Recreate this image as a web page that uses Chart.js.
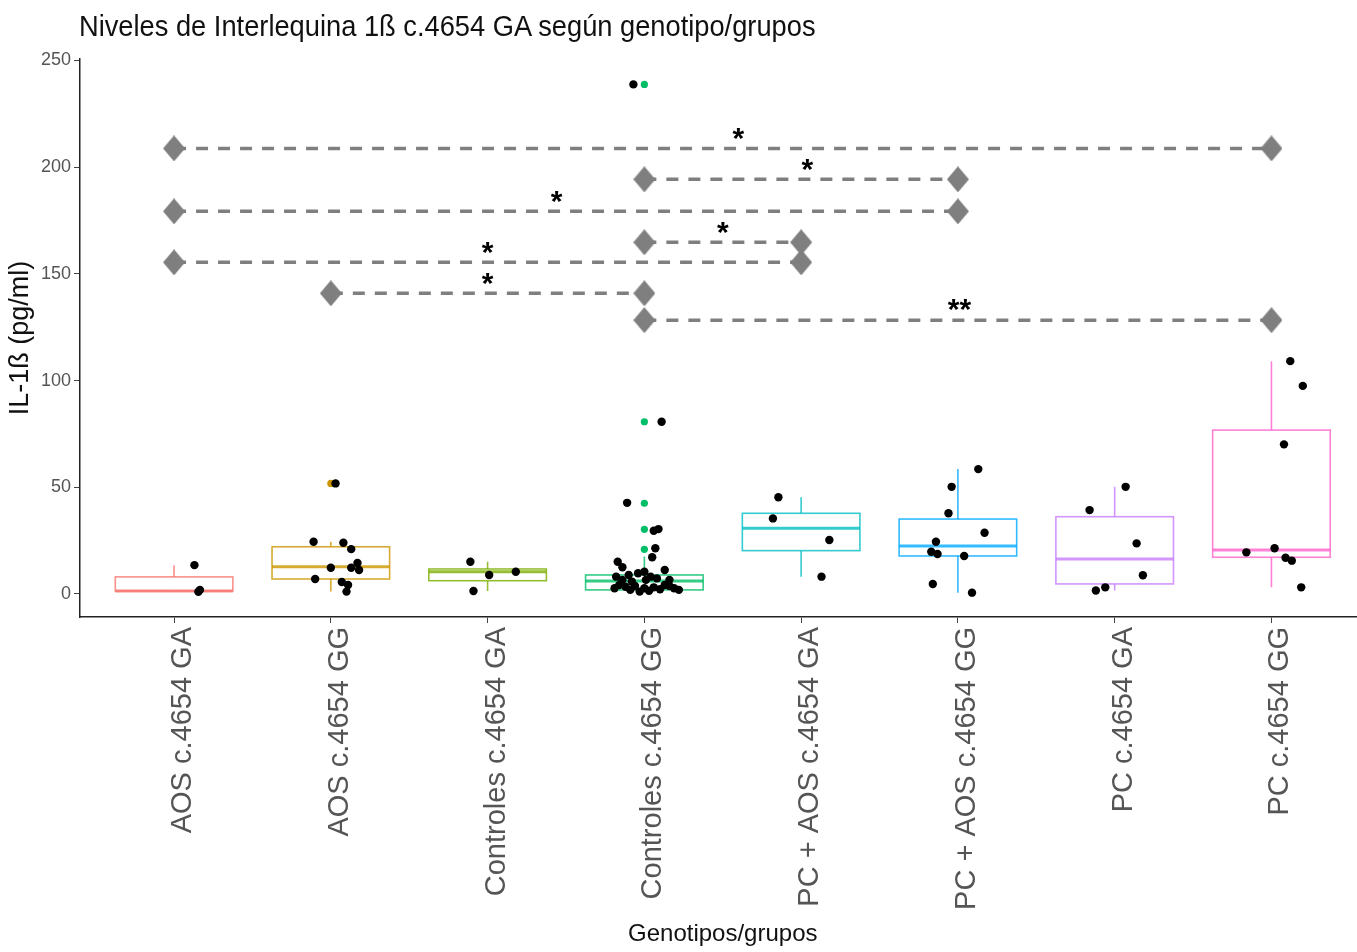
<!DOCTYPE html>
<html>
<head>
<meta charset="utf-8">
<script src="https://cdn.jsdelivr.net/npm/chart.js@4.4.1/dist/chart.umd.min.js"></script>
<style>
  html, body { margin: 0; padding: 0; background: #fff; overflow: hidden; }
  #wrap { position: relative; width: 1380px; height: 952px; }
  #titulo {
    position: absolute; left: 79px; top: 10px;
    font-family: 'Liberation Sans', Arial, sans-serif;
    font-size: 29px; color: #111; white-space: nowrap;
    transform-origin: left top;
  }
</style>
</head>
<body>
<div id="wrap">
  <div id="titulo">Niveles de Interlequina 1ß c.4654 GA según genotipo/grupos</div>
  <canvas id="myChart" width="1380" height="952"></canvas>
</div>
<script>
// grupos
var categories = ['AOS c.4654 GA', 'AOS c.4654 GG', 'Controles c.4654 GA', 'Controles c.4654 GG',
                  'PC + AOS c.4654 GA', 'PC + AOS c.4654 GG', 'PC c.4654 GA', 'PC c.4654 GG'];
var boxColors = ['#F8766D', '#CD9600', '#7CAE00', '#00BE67', '#00BFC4', '#00A9FF', '#C77CFF', '#FF61CC'];

// resumen de cajas (pg/ml)
var q1 = [1.4, 7.0, 6.2, 1.9, 20.3, 17.8, 4.7, 17.2];
var medians = [1.4, 12.8, 10.4, 6.1, 30.8, 22.5, 16.4, 20.6];
var q3 = [8.0, 22.1, 11.7, 8.9, 37.8, 35.1, 36.2, 76.8];
var whiskerLow = [1.0, 1.1, 1.4, 1.1, 8.1, 0.6, 1.6, 3.1];
var whiskerHigh = [13.5, 24.5, 15.1, 17.5, 45.3, 58.5, 50.2, 109.1];
var outliers = [[], [51.8], [], [238.8, 80.7, 42.5, 30.3, 20.9], [], [], [], []];

// observaciones: [desplazamiento jitter, valor]
var obsAosGA = [[0.13, 13.5], [0.165, 1.9], [0.155, 1.0]];
var obsAosGG = [[-0.11, 24.5], [0.08, 24], [0.13, 21], [0, 12.3], [0.13, 12.3], [0.17, 14.5], [0.18, 11.2],
                [-0.10, 7], [0.07, 5.6], [0.11, 4.2], [0.10, 1.1], [0.03, 51.8]];
var obsCtrlGA = [[-0.11, 15.1], [0.01, 8.9], [0.18, 10.4], [-0.09, 1.4]];
var obsCtrlGG = [[-0.07, 238.8], [0.11, 80.7], [-0.11, 42.7], [0.09, 30.4], [0.06, 29.6], [0.07, 21.4],
                 [0.05, 17.2], [-0.17, 15.1], [-0.14, 12.5], [0.13, 11.2], [-0.18, 8.1], [-0.10, 8.9],
                 [-0.04, 9.7], [0, 10.4], [0.04, 8.1], [0.08, 7.3], [0.16, 6.6], [-0.14, 6.6], [-0.08, 5.8],
                 [0.01, 6.6], [-0.16, 4.2], [-0.19, 2.7], [-0.12, 3.4], [-0.06, 3.7], [0, 2.7], [0.06, 3.1],
                 [0.13, 4.2], [0.19, 2.7], [0.22, 1.9], [-0.03, 1.1], [0.03, 1.5], [0.10, 2.2], [-0.09, 1.9],
                 [0.16, 3.7]];
var obsPcAosGA = [[-0.145, 45.3], [-0.18, 35.4], [0.18, 25.3], [0.13, 8.1]];
var obsPcAosGG = [[0.13, 58.5], [-0.04, 50.2], [-0.06, 37.8], [0.17, 28.7], [-0.14, 24.5], [-0.17, 19.8],
                  [-0.13, 18.7], [0.04, 17.8], [-0.16, 4.7], [0.09, 0.6]];
var obsPcGA = [[0.07, 50.2], [-0.16, 39.3], [0.14, 23.7], [0.18, 8.8], [-0.12, 1.6], [-0.06, 3.1]];
var obsPcGG = [[0.12, 109.1], [0.20, 97.5], [0.08, 70.1], [-0.16, 19.5], [0.02, 21.4], [0.09, 17],
               [0.13, 15.6], [0.19, 3.1]];
var observations = [obsAosGA, obsAosGG, obsCtrlGA, obsCtrlGG, obsPcAosGA, obsPcAosGG, obsPcGA, obsPcGG];

// comparaciones significativas
var bracketFrom = [0, 3, 0, 3, 0, 1, 3];
var bracketTo = [7, 5, 5, 4, 4, 3, 7];
var bracketY = [208.8, 194.3, 179.3, 164.8, 155.4, 140.9, 128.3];
var bracketLabels = ['*', '*', '*', '*', '*', '*', '**'];
var bracketLabelX = [3.6, 4.04, 2.44, 3.5, 2.0, 2.0, 5.01];

var yTicks = [0, 50, 100, 150, 200, 250];
var boxHalf = 0.375;

function makeDiamond() {
    var c = document.createElement('canvas');
    c.width = 22; c.height = 26;
    var g = c.getContext('2d');
    g.fillStyle = '#7f7f7f';
    g.beginPath();
    g.moveTo(11, 0); g.lineTo(22, 13); g.lineTo(11, 26); g.lineTo(0, 13);
    g.closePath();
    g.fill();
    return c;
}
var diamond = makeDiamond();

var datasets = [];

// corchetes
for (var b = 0; b < bracketFrom.length; b++) {
    datasets.push({
        type: 'scatter',
        data: [{x: bracketFrom[b], y: bracketY[b]}, {x: bracketTo[b], y: bracketY[b]}],
        showLine: true,
        borderColor: '#7f7f7f',
        borderWidth: 3.5,
        borderDash: [12, 10],
        pointStyle: diamond,
        pointRadius: 11,
        order: 0
    });
}

// puntos jitter
var pts = [];
observations.forEach(function (grp, i) {
    grp.forEach(function (o) { pts.push({x: i + o[0], y: o[1]}); });
});
datasets.push({
    type: 'scatter',
    data: pts,
    backgroundColor: '#000',
    borderColor: '#000',
    pointRadius: 4.2,
    borderWidth: 0,
    order: 1
});

// outliers
var outPts = [], outCols = [];
outliers.forEach(function (grp, i) {
    grp.forEach(function (v) { outPts.push({x: i, y: v}); outCols.push(boxColors[i]); });
});
datasets.push({
    type: 'scatter',
    data: outPts,
    backgroundColor: outCols,
    borderColor: outCols,
    pointRadius: 3.6,
    borderWidth: 0,
    order: 2
});

var boxPlugin = {
    id: 'boxes',
    beforeDatasetsDraw: function (chart) {
        var ctx = chart.ctx, x = chart.scales.x, y = chart.scales.y;
        ctx.save();
        for (var i = 0; i < categories.length; i++) {
            var xl = x.getPixelForValue(i - boxHalf), xr = x.getPixelForValue(i + boxHalf);
            var xc = x.getPixelForValue(i);
            ctx.strokeStyle = boxColors[i];
            ctx.globalAlpha = 0.8;
            ctx.lineWidth = 1.6;
            ctx.beginPath();
            ctx.moveTo(xc, y.getPixelForValue(q3[i])); ctx.lineTo(xc, y.getPixelForValue(whiskerHigh[i]));
            ctx.moveTo(xc, y.getPixelForValue(q1[i])); ctx.lineTo(xc, y.getPixelForValue(whiskerLow[i]));
            ctx.stroke();
            var top = y.getPixelForValue(q3[i]), bot = y.getPixelForValue(q1[i]);
            ctx.fillStyle = '#fff';
            ctx.fillRect(xl, top, xr - xl, bot - top);
            ctx.strokeRect(xl, top, xr - xl, bot - top);
            ctx.lineWidth = 3;
            ctx.beginPath();
            ctx.moveTo(xl, y.getPixelForValue(medians[i])); ctx.lineTo(xr, y.getPixelForValue(medians[i]));
            ctx.stroke();
        }
        ctx.restore();
    },
    afterDatasetsDraw: function (chart) {
        var ctx = chart.ctx, x = chart.scales.x, y = chart.scales.y;
        ctx.save();
        ctx.fillStyle = '#000';
        ctx.font = 'bold 30px "Liberation Sans", sans-serif';
        ctx.textAlign = 'center';
        ctx.textBaseline = 'top';
        for (var b = 0; b < bracketFrom.length; b++) {
            ctx.fillText(bracketLabels[b], x.getPixelForValue(bracketLabelX[b]), y.getPixelForValue(bracketY[b]) - 24);
        }
        ctx.restore();
    }
};

var ctx = document.getElementById('myChart').getContext('2d');
var myChart = new Chart(ctx, {
    type: 'scatter',
    data: {datasets: datasets},
    plugins: [boxPlugin],
    options: {
        responsive: false,
        animation: false,
        devicePixelRatio: 1,
        layout: {padding: {top: 59, right: 6, left: 0, bottom: 0}},
        plugins: {legend: {display: false}, tooltip: {enabled: false}},
        scales: {
            x: {
                type: 'linear',
                min: -0.6,
                max: 7.6,
                afterBuildTicks: function (s) { s.ticks = categories.map(function (c, i) { return {value: i}; }); },
                afterFit: function (s) { s.height = 335; },
                ticks: {
                    autoSkip: false,
                    minRotation: 90,
                    maxRotation: 90,
                    labelOffset: 9,
                    color: '#555',
                    padding: 4,
                    font: {family: '"Liberation Sans", Arial, sans-serif', size: 29},
                    callback: function (v) { return categories[v]; }
                },
                grid: {drawOnChartArea: false, drawTicks: true, tickLength: 6, color: '#444'},
                border: {color: '#222', width: 1.5},
                title: {
                    display: true,
                    text: 'Genotipos/grupos',
                    color: '#111',
                    padding: {top: 0, bottom: 3},
                    font: {family: '"Liberation Sans", Arial, sans-serif', size: 24}
                }
            },
            y: {
                min: -10.8,
                max: 250.7,
                afterBuildTicks: function (s) { s.ticks = yTicks.map(function (v) { return {value: v}; }); },
                afterFit: function (s) { s.width = 80; },
                ticks: {
                    color: '#555',
                    padding: 3,
                    font: {family: '"Liberation Sans", Arial, sans-serif', size: 18}
                },
                grid: {drawOnChartArea: false, drawTicks: true, tickLength: 6, color: '#444'},
                border: {color: '#222', width: 1.5},
                title: {
                    display: true,
                    text: 'IL-1ß (pg/ml)',
                    color: '#111',
                    padding: {top: 4, bottom: 0},
                    font: {family: '"Liberation Sans", Arial, sans-serif', size: 27}
                }
            }
        }
    }
});

// ajustar el ancho del título al de la figura original
var t = document.getElementById('titulo');
t.style.transform = 'scaleX(' + (737 / t.scrollWidth) + ')';
</script>
</body>
</html>
